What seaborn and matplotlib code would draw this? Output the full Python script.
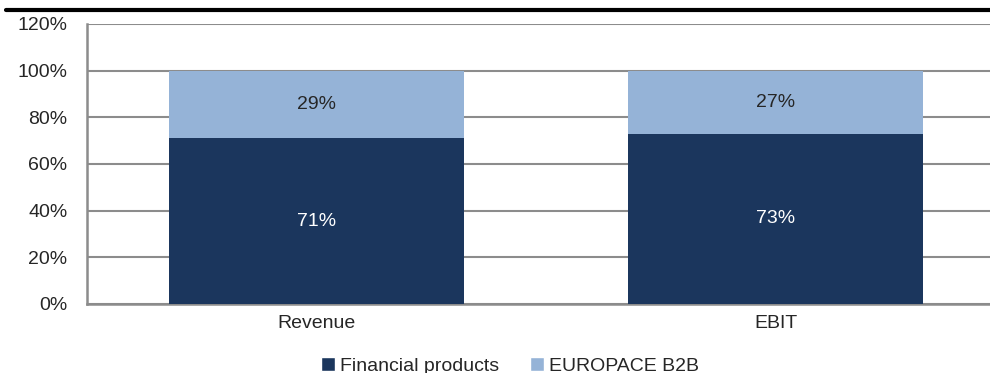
import matplotlib
matplotlib.use("Agg")
import matplotlib.pyplot as plt
import seaborn as sns
import pandas as pd
from matplotlib.lines import Line2D
from matplotlib.patches import Patch

categories = ["Revenue", "EBIT"]
financial_products = [71, 73]
europace_b2b = [29, 27]
series_names = ["Financial products", "EUROPACE B2B"]
y_ticks = [0, 20, 40, 60, 80, 100, 120]

dark = "#1B365D"
light = "#95B3D7"
grid_col = "#8C8C8C"
text_col = "#262626"
fs = 14

sns.set_theme(style="white")
plt.rcParams["font.family"] = ["Liberation Sans", "DejaVu Sans"]

df = pd.DataFrame({
    "category": categories,
    "fin": financial_products,
    "total": [a + b for a, b in zip(financial_products, europace_b2b)],
})

fig = plt.figure(figsize=(9.9, 3.73), dpi=100)
ax = fig.add_axes([87 / 990, 1 - 304 / 373, 918 / 990, 280 / 373])

sns.barplot(data=df, x="category", y="total", color=light, width=0.643,
            saturation=1, linewidth=0, ax=ax, zorder=2)
sns.barplot(data=df, x="category", y="fin", color=dark, width=0.643,
            saturation=1, linewidth=0, ax=ax, zorder=3)

for i, (a, b) in enumerate(zip(financial_products, europace_b2b)):
    ax.text(i, a / 2, f"{a}%", ha="center", va="center", color="white",
            fontsize=fs, zorder=4)
    ax.text(i, a + b / 2, f"{b}%", ha="center", va="center", color=text_col,
            fontsize=fs, zorder=4)

ax.set_xlim(-0.5, 1.5)
ax.set_ylim(0, 120)
ax.set_yticks(y_ticks)
ax.set_yticklabels([f"{t}%" for t in y_ticks], fontsize=fs, color=text_col)
ax.tick_params(axis="x", labelsize=fs, colors=text_col, length=0, pad=8)
ax.tick_params(axis="y", length=0, pad=14)
ax.set_xlabel("")
ax.set_ylabel("")
ax.yaxis.grid(True, color=grid_col, linewidth=1.5)
ax.set_axisbelow(True)
for side in ["top", "right"]:
    ax.spines[side].set_visible(False)
for side in ["left", "bottom"]:
    ax.spines[side].set_color(grid_col)
    ax.spines[side].set_linewidth(1.8)

handles = [Patch(facecolor=dark, label=series_names[0]),
           Patch(facecolor=light, label=series_names[1])]
fig.legend(handles=handles, loc="center", bbox_to_anchor=(510 / 990, 1 - 366 / 373),
           ncol=2, frameon=False, fontsize=fs, handlelength=0.7,
           handleheight=0.7, handletextpad=0.25, columnspacing=1.6)

fig.add_artist(Line2D([6 / 990, 1.0], [1 - 10 / 373, 1 - 10 / 373],
                      color="black", linewidth=3, transform=fig.transFigure))

fig.savefig("out.png", dpi=100)
